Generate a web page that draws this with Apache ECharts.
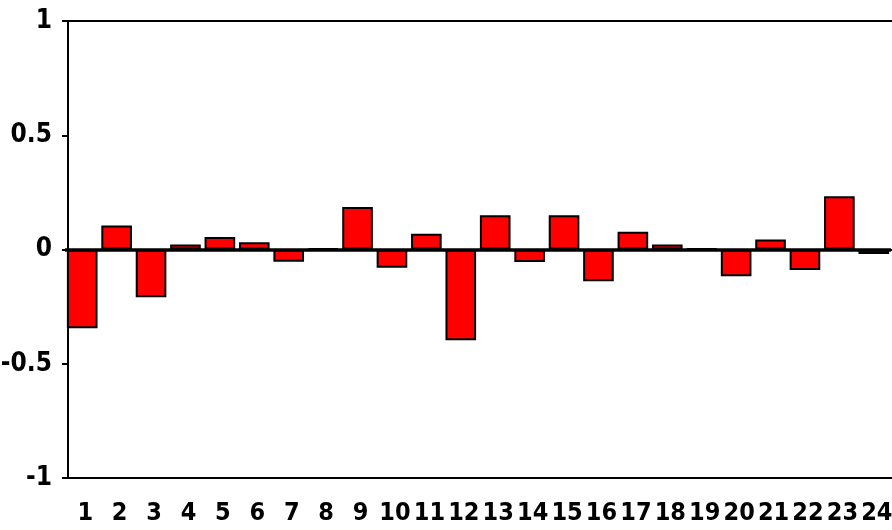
<!DOCTYPE html>
<html>
<head>
<meta charset="utf-8">
<script src="https://cdn.jsdelivr.net/npm/echarts@6/dist/echarts.min.js"></script>
<style>
html,body{margin:0;padding:0;background:#fff;}
#main{width:892px;height:530px;}
</style>
</head>
<body>
<div id="main"></div>
<script>
var categories = ['1','2','3','4','5','6','7','8','9','10','11','12','13','14','15','16','17','18','19','20','21','22','23','24'];
var values = [-0.345, 0.105, -0.209, 0.022, 0.055, 0.032, -0.054, 0.004, 0.186, -0.08, 0.069, -0.397, 0.15, -0.055, 0.15, -0.139, 0.078, 0.022, 0.004, -0.117, 0.044, -0.09, 0.233, -0.02];
var yMin = -1, yMax = 1, yStep = 0.5;

var FONT = "'Liberation Sans Narrow', 'DejaVu Sans Condensed', 'Arial Narrow', sans-serif";
var chart = echarts.init(document.getElementById('main'), null, {renderer: 'canvas'});
var option = {
  animation: false,
  backgroundColor: '#fff',
  grid: [
    {left: 68, top: 21, width: 826, height: 457, show: true, borderColor: '#000', borderWidth: 2, backgroundColor: 'transparent', containLabel: false, outerBoundsMode: 'none'},
    {left: 65, top: 21, width: 826, height: 457, show: false, containLabel: false, outerBoundsMode: 'none'}
  ],
  xAxis: [
    {
      type: 'category', gridIndex: 0, data: categories, position: 'bottom',
      axisLine: {lineStyle: {color: '#000', width: 2}},
      axisTick: {alignWithLabel: true, length: 11, lineStyle: {color: '#000', width: 2}},
      axisLabel: {color: '#000', fontFamily: FONT, fontWeight: 'bold', fontSize: 25, margin: 23, interval: 0, hideOverlap: false},
      splitLine: {show: false}
    },
    {
      type: 'category', gridIndex: 1, data: categories, show: false
    }
  ],
  yAxis: [
    {
      type: 'value', gridIndex: 0, min: yMin, max: yMax, interval: yStep,
      axisLine: {show: true, lineStyle: {color: '#000', width: 2}},
      axisTick: {show: true, length: 6, lineStyle: {color: '#000', width: 2}},
      axisLabel: {color: '#000', fontFamily: FONT, fontWeight: 'bold', fontSize: 26, margin: 16},
      splitLine: {show: false}
    },
    {
      type: 'value', gridIndex: 1, min: yMin, max: yMax, interval: yStep, show: false, splitLine: {show: false}
    }
  ],
  series: [
    {
      type: 'bar', xAxisIndex: 1, yAxisIndex: 1, data: values,
      barCategoryGap: '11%',
      itemStyle: {color: '#f00', borderColor: '#000', borderWidth: 2},
      markLine: {
        silent: true, symbol: 'none', label: {show: false},
        lineStyle: {color: '#000', width: 3.5, type: 'solid'},
        data: [{yAxis: 0}]
      }
    }
  ]
};
chart.setOption(option);
</script>
</body>
</html>
